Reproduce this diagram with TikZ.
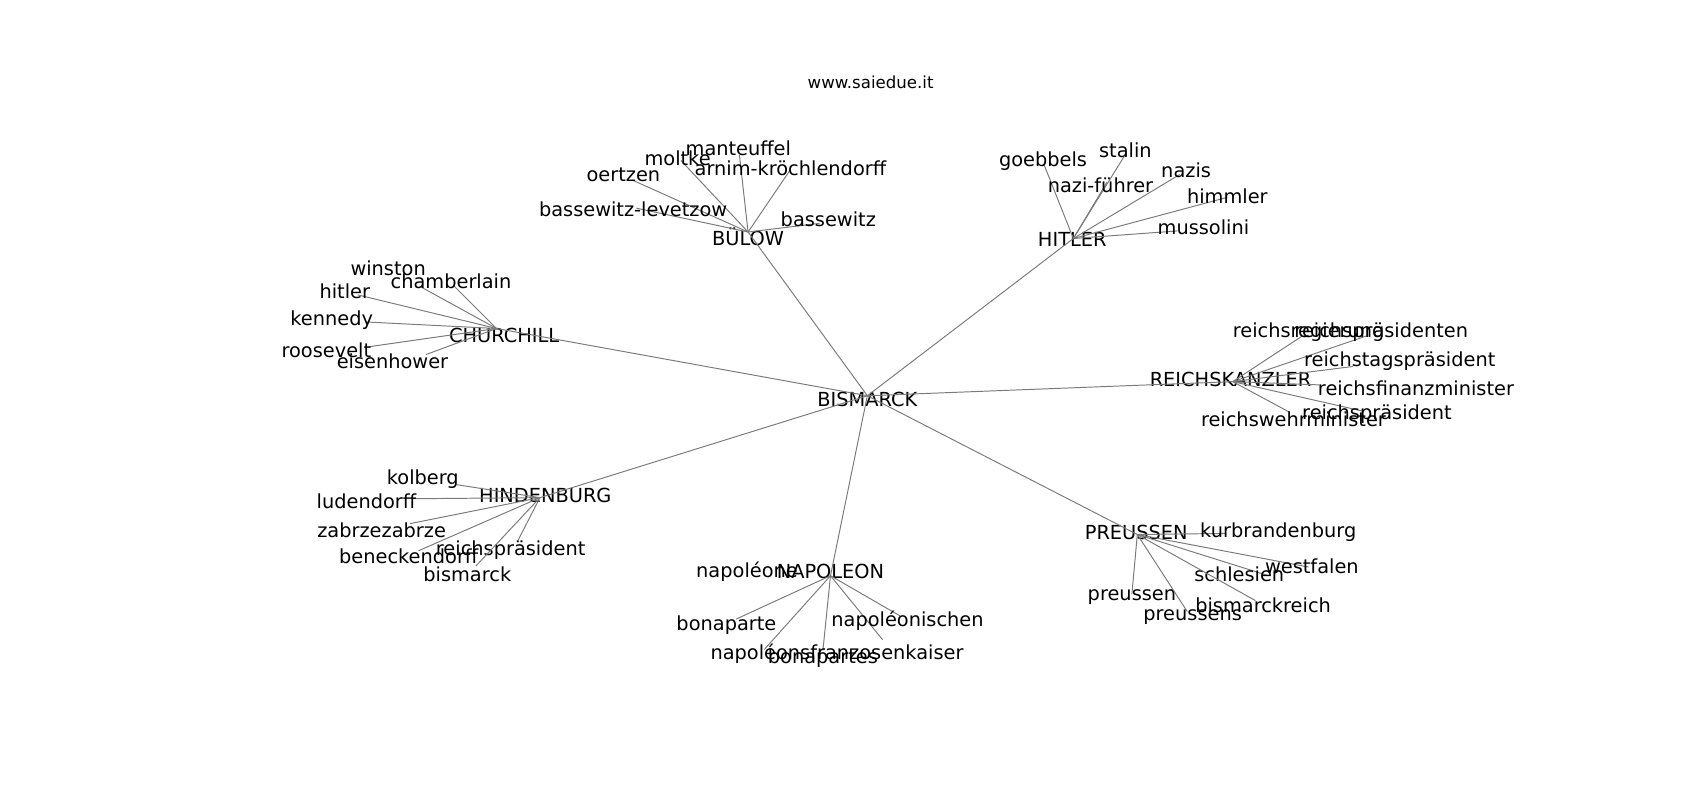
\documentclass[tikz,border=0pt]{standalone}
\usepackage{fontspec}
\setmainfont{DejaVu Sans}
\begin{document}
\begin{tikzpicture}[x=0.02756cm,y=-0.02756cm,
	edge/.style={draw=black!52,line width=0.7pt},
	lbl/.style={inner sep=0pt,font=\fontsize{14}{16}\selectfont},
	ttl/.style={inner sep=0pt,font=\fontsize{12}{14}\selectfont}]
	\useasboundingbox (0,0) rectangle (1568,738);
	\node[ttl] (title) at (803,76) {www.saiedue.it};
	% hubs: name / point / label position / label
	\foreach \h/\hx/\hy/\tx/\ty/\txt in {BIS/800/365/800/368/BISMARCK,
		BUL/690/214/690/218/BÜLOW, HIT/990/220/989/221/HITLER,
		CHU/458/303/465/309/CHURCHILL, REI/1137/352/1135/350/REICHSKANZLER,
		HIN/498/459/503/457/HINDENBURG, NAP/766/531/766/527/NAPOLEON,
		PRE/1049/493/1048/491/PREUSSEN}{
		\coordinate (\h) at (\hx,\hy);
		\node[lbl] (\h-t) at (\tx,\ty) {\txt};
	}
	\foreach \h in {BUL,HIT,CHU,REI,HIN,NAP,PRE}
		\draw[edge] (BIS) -- (\h);
	% leaves: hub / end of edge / label position / label
	\foreach \h/\ex/\ey/\tx/\ty/\txt [count=\i] in {
		BUL/682/143/681/137/manteuffel, BUL/628/148/625/146/moltke,
		BUL/728/158/729/155/arnim-kröchlendorff, BUL/583/166/575/161/oertzen,
		BUL/587/192/584/193/bassewitz-levetzow, BUL/756/206/764/202/bassewitz,
		HIT/963/152/962/149/goebbels, HIT/1037/144/1038/139/stalin,
		HIT/1021/168/1015/171/nazi-führer, HIT/1088/161/1094/157/nazis,
		HIT/1132/182/1132/181/himmler, HIT/1086/213/1110/210/mussolini,
		CHU/387/264/358/247/winston, CHU/419/264/416/259/chamberlain,
		CHU/330/272/318/269/hitler, CHU/338/297/306/295/kennedy,
		CHU/339/320/301/323/roosevelt, CHU/393/327/362/333/eisenhower,
		REI/1201/310/1207/306/reichsregierung, REI/1260/310/1274/306/reichspräsidenten,
		REI/1248/338/1291/333/reichstagspräsident, REI/1217/355/1306/358/reichsfinanzminister,
		REI/1256/379/1270/382/reichspräsident, REI/1189/380/1193/387/reichswehrminister,
		HIN/421/447/390/442/kolberg, HIN/381/460/338/462/ludendorff,
		HIN/378/483/352/489/zabrzezabrze, HIN/386/508/377/513/beneckendorff,
		HIN/478/498/471/507/reichspräsident, HIN/439/522/431/530/bismarck,
		NAP/679/571/670/577/bonaparte, NAP/705/599/689/527/napoléone,
		NAP/759/600/759/607/bonapartes, NAP/814/590/772/603/napoléonsfranzosenkaiser,
		NAP/830/568/837/573/napoléonischen,
		PRE/1131/492/1179/491/kurbrandenburg, PRE/1207/523/1210/522/westfalen,
		PRE/1170/531/1143/530/schlesien, PRE/1158/554/1165/558/bismarckreich,
		PRE/1044/548/1044/551/preussen, PRE/1095/564/1100/569/preussens}{
		\coordinate (leaf\i) at (\ex,\ey);
		\draw[edge] (\h) -- (leaf\i);
		\node[lbl] (lt\i) at (\tx,\ty) {\txt};
	}
\end{tikzpicture}
\end{document}
